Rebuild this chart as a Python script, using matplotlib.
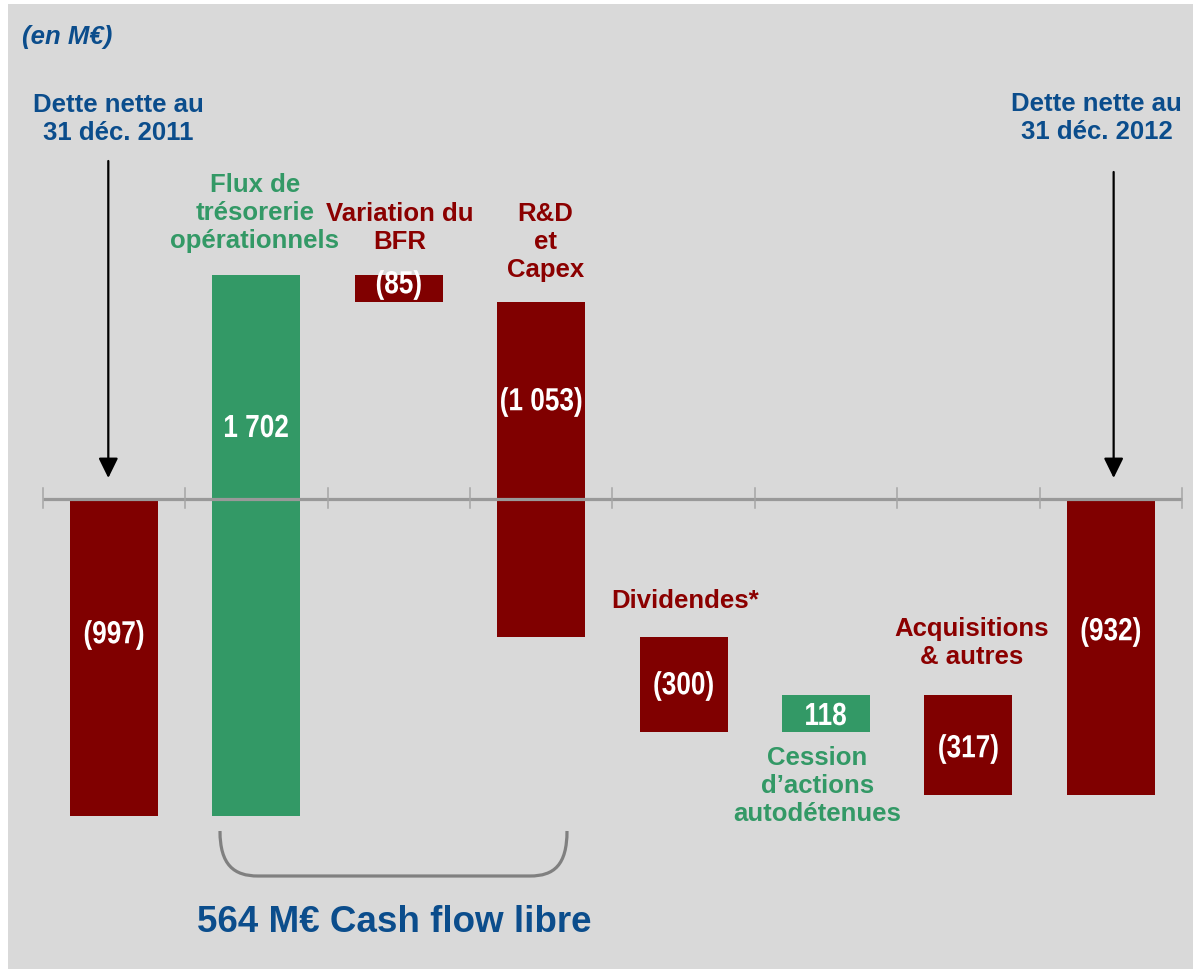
import matplotlib
matplotlib.use("Agg")
import matplotlib.pyplot as plt
import numpy as np
from matplotlib import font_manager
from matplotlib.transforms import Affine2D, blended_transform_factory
from matplotlib.patches import Rectangle, PathPatch
from matplotlib.path import Path
from matplotlib.textpath import TextPath
from matplotlib.font_manager import FontProperties

# ---------------- data ----------------
categories = [
    "Dette nette au\n31 déc. 2011",
    "Flux de\ntrésorerie\nopérationnels",
    "Variation du\nBFR",
    "R&D\net\nCapex",
    "Dividendes*",
    "Cession\nd’actions\nautodétenues",
    "Acquisitions\n& autres",
    "Dette nette au\n31 déc. 2012",
]
values = [-997, 1702, -85, -1053, -300, 118, -317, -932]
is_total = [True, False, False, False, False, False, False, True]
value_labels = ["(997)", "1 702", "(85)", "(1 053)", "(300)", "118", "(317)", "(932)"]
unit_label = "(en M€)"
fcf_label = "564 M€ Cash flow libre"

# ---------------- style ----------------
W, H = 1193, 970
BG = "#d9d9d9"
RED = "#800000"
RED_TXT = "#8b0000"
GREEN = "#339966"
BLUE = "#0b4d8c"
AXIS_GRAY = "#999999"

fig = plt.figure(figsize=(W / 100, H / 100), dpi=100, facecolor="white")
px = Affine2D().scale(1 / W, -1 / H).translate(0, 1) + fig.transFigure

# background panel
fig.add_artist(Rectangle((8, 5), W - 8, H - 5, transform=px, fc=BG, ec="none", zorder=-5))

ax = fig.add_axes([0, 0, 1, 1])
ax.patch.set_visible(False)
ax.axis("off")

X0_PX, STEP_PX = 114.0, 142.4
Y0_PX, SCALE = 500.0, 0.318
ax.set_xlim(-X0_PX / STEP_PX, (W - X0_PX) / STEP_PX)
ax.set_ylim((Y0_PX - H) / SCALE, Y0_PX / SCALE)

bx = blended_transform_factory(ax.transData, px)

# waterfall geometry
bottoms, heights = [], []
running = 0.0
for v, tot in zip(values, is_total):
    if tot:
        bottoms.append(0.0)
        heights.append(v)
        running = v
    else:
        bottoms.append(running)
        heights.append(v)
        running += v
colors = [GREEN if (v > 0) else RED for v in values]
xs = np.arange(len(values))
ax.bar(xs, heights, bottom=bottoms, width=0.618, color=colors, edgecolor="none", zorder=2)

# horizontal axis line + ticks
ax.plot([-0.5, len(values) - 0.5], [0, 0], color=AXIS_GRAY, lw=2.3, zorder=3, solid_capstyle="butt")
for b in np.arange(-0.5, len(values), 1.0):
    ax.plot([b, b], [489, 509], transform=bx, color="#a6a6a6", lw=1.1, zorder=3)

# fonts
names = {f.name for f in font_manager.fontManager.ttflist}
NARROW = "Liberation Sans Narrow" if "Liberation Sans Narrow" in names else None
LAB = dict(family=["Liberation Sans", "DejaVu Sans"], fontweight="bold", fontsize=18.5)


def value_text(i, y_px, s, size_pt=23):
    if NARROW:
        ax.text(i, y_px, s, transform=bx, ha="center", va="center", color="white",
                family=[NARROW, "Liberation Sans"], fontweight="bold", fontsize=size_pt, zorder=6)
    else:
        fp = FontProperties(family="Liberation Sans", weight="bold")
        tp = TextPath((0, 0), s, size=size_pt * 100 / 72, prop=fp)
        bb = tp.get_extents()
        xc = X0_PX + STEP_PX * i
        t = (Affine2D().translate(-(bb.x0 + bb.x1) / 2, -(bb.y0 + bb.y1) / 2)
             .scale(0.82, -1).translate(xc, y_px))
        fig.add_artist(PathPatch(t.transform_path(tp), transform=px, fc="white", ec="none", zorder=6))


# value labels inside bars
val_y = [636, 427, 286, 403, 687, 715, 750, 633]
for i, (s, y) in enumerate(zip(value_labels, val_y)):
    value_text(i, y, s)

# category labels
cat_pos = [(0.03, 119, BLUE), (-0.01, 213, GREEN), (0.01, 228, RED_TXT), (0.03, 242, RED_TXT),
           (0.01, 601, RED_TXT), (-0.06, 786, GREEN), (0.02, 643, RED_TXT), (-0.10, 118, BLUE)]
for i, (lab, (dx, y, c)) in enumerate(zip(categories, cat_pos)):
    ax.text(i + dx, y, lab, transform=bx, ha="center", va="center", color=c,
            linespacing=1.22, zorder=6, **LAB)

# unit label
ax.text(22, 37, unit_label, transform=px, ha="left", va="center", color=BLUE,
        family=["Liberation Sans", "DejaVu Sans"], fontweight="bold", fontstyle="italic", fontsize=18.5)

# arrows to the totals
for i, dx, ytop in [(0, -0.04, 162), (len(values) - 1, 0.02, 173)]:
    ax.annotate("", xy=(i + dx, 479), xytext=(i + dx, ytop), xycoords=bx, textcoords=bx,
                arrowprops=dict(arrowstyle="-|>,head_length=0.55,head_width=0.27", mutation_scale=22,
                                lw=1.6, color="black", shrinkA=0, shrinkB=0), zorder=6)

# bracket under free-cash-flow items
verts = [(220, 832), (220, 866), (234, 877), (258, 877),
         (530, 877), (554, 877), (567, 866), (567, 832)]
codes = [Path.MOVETO, Path.CURVE4, Path.CURVE4, Path.CURVE4,
         Path.LINETO, Path.CURVE4, Path.CURVE4, Path.CURVE4]
fig.add_artist(PathPatch(Path(verts, codes), transform=px, fc="none", ec="#808080", lw=2.3, zorder=4))

ax.text(394, 923, fcf_label, transform=px, ha="center", va="center", color=BLUE,
        family=["Liberation Sans", "DejaVu Sans"], fontweight="bold", fontsize=26.5)

fig.savefig("out.png", dpi=100, facecolor="white")
